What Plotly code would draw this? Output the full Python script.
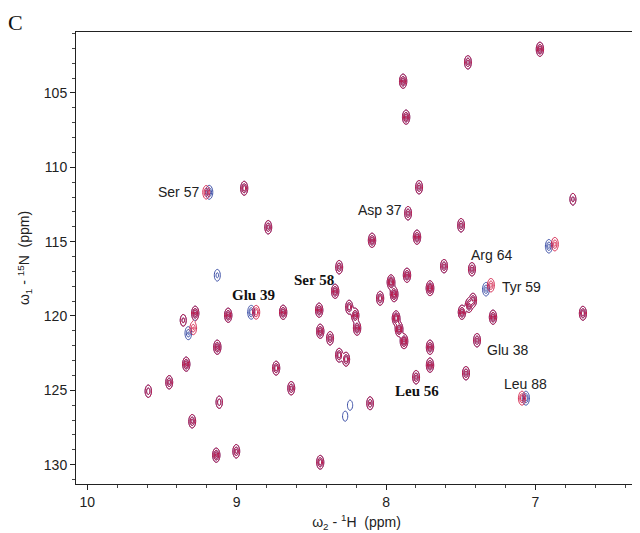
import numpy as np
import plotly.graph_objects as go

# ---- data: peak positions (1H ppm, 15N ppm) and relative intensities ----
common_H = [6.970, 7.452, 7.886, 7.866, 8.950, 8.789, 7.779, 7.853, 7.498, 8.094,
            7.793, 6.749, 8.314, 7.612, 7.425, 7.860, 8.341, 7.967, 7.946, 7.706,
            8.040, 7.492, 7.445, 7.418, 7.284, 6.682, 8.448, 8.247, 8.207, 8.194,
            7.933, 7.913, 7.880, 8.441, 8.375, 8.314, 8.268, 7.706, 7.706, 7.391,
            7.465, 7.799, 8.107, 8.441, 9.278, 9.358, 9.057, 8.689, 9.130, 9.338,
            8.736, 9.452, 9.592, 8.635, 9.117, 9.298, 9.137, 9.003]
common_N = [102.06, 102.94, 104.21, 106.63, 111.41, 114.03, 111.34, 113.09, 113.90, 114.91,
            114.70, 112.15, 116.72, 116.65, 116.86, 117.26, 118.34, 117.73, 118.54, 118.13,
            118.81, 119.75, 119.28, 118.94, 120.08, 119.82, 119.61, 119.41, 119.95, 120.82,
            120.15, 120.89, 121.70, 121.03, 121.50, 122.64, 122.91, 122.10, 123.31, 121.63,
            123.85, 124.12, 125.87, 129.84, 119.82, 120.29, 119.95, 119.75, 122.10, 123.24,
            123.51, 124.46, 125.06, 124.86, 125.80, 127.08, 129.36, 129.10]
common_I = [1.0, 0.8, 1.0, 1.0, 0.9, 0.8, 0.8, 0.8, 0.8, 1.0,
            1.0, 0.5, 0.8, 0.8, 0.8, 1.0, 1.0, 1.2, 1.2, 1.2,
            0.9, 1.0, 1.0, 0.9, 1.0, 0.9, 1.0, 0.9, 1.0, 1.0,
            1.2, 1.2, 1.2, 1.0, 0.8, 0.9, 0.9, 1.0, 1.0, 0.8,
            0.8, 0.8, 0.7, 0.9, 1.0, 0.5, 1.0, 1.0, 1.0, 1.0,
            0.9, 0.8, 0.6, 0.8, 0.6, 0.8, 1.0, 0.8]

# peaks that differ between the two spectra
red_extra_H = [9.204, 7.298, 7.090, 6.870, 8.870, 9.291]
red_extra_N = [111.68, 117.93, 125.53, 115.17, 119.75, 120.82]
red_extra_I = [0.8, 0.8, 0.9, 0.8, 0.9, 0.7]

blue_extra_H = [9.184, 7.331, 7.064, 6.910, 8.903, 9.324, 9.130, 8.241, 8.274]
blue_extra_N = [111.68, 118.20, 125.53, 115.31, 119.75, 121.16, 117.26, 126.00, 126.74]
blue_extra_I = [0.9, 0.8, 0.9, 0.8, 0.9, 0.7, 0.5, 0.35, 0.35]

labels = ["Ser 57", "Asp 37", "Arg 64", "Tyr 59", "Glu 38", "Leu 88", "Glu 39", "Ser 58", "Leu 56"]
label_H = [9.391, 8.043, 7.291, 7.094, 7.187, 7.067, 8.886, 8.485, 7.796]
label_N = [111.69, 112.89, 115.93, 118.07, 122.31, 124.60, 118.61, 117.60, 125.06]
label_bold = [False, False, False, False, False, False, True, True, True]

x_ticks = [10, 9, 8, 7]
y_ticks = [105, 110, 115, 120, 125, 130]

# ---- build spectra surfaces ----
gH = np.arange(6.55, 9.70, 0.005)
gN = np.arange(101.0, 131.2, 0.1)
HH, NN = np.meshgrid(gH, gN)
sx, sy = 0.0118, 0.23


def spectrum(hs, ns, amps):
    z = np.zeros_like(HH)
    for h, n, a in zip(hs, ns, amps):
        z += a * np.exp(-((HH - h) ** 2 / (2 * sx ** 2) + (NN - n) ** 2 / (2 * sy ** 2)))
    return np.round(z, 3)


z_red = spectrum(common_H + red_extra_H, common_N + red_extra_N, common_I + red_extra_I)
z_blue = spectrum(common_H + blue_extra_H, common_N + blue_extra_N, common_I + blue_extra_I)

fig = go.Figure()
for z, col, w in [(z_blue, "#3b4ea6", 1.0), (z_red, "#d01440", 0.9)]:
    fig.add_trace(go.Contour(
        x=gH, y=gN, z=z,
        contours=dict(coloring="lines", start=0.12, end=1.3, size=0.26),
        colorscale=[[0, col], [1, col]],
        line=dict(width=w),
        showscale=False, hoverinfo="skip",
    ))

for t, h, n, b in zip(labels, label_H, label_N, label_bold):
    if b:
        font = dict(family="Liberation Serif, Times New Roman, serif", size=15, color="#111")
        txt = "<b>" + t + "</b>"
    else:
        font = dict(family="Liberation Sans, Arial, sans-serif", size=14, color="#222")
        txt = t
    fig.add_annotation(x=h, y=n, text=txt, showarrow=False, font=font,
                       xanchor="center", yanchor="middle")

fig.add_annotation(xref="paper", yref="paper", x=-0.124, y=1.052, text="C", showarrow=False,
                   font=dict(family="Liberation Serif, Times New Roman, serif", size=22, color="#111"),
                   xanchor="left", yanchor="top")

axis_font = dict(family="Liberation Sans, Arial, sans-serif", size=14, color="#222")
fig.update_layout(
    width=632, height=525,
    margin=dict(l=68, r=3, t=24, b=49),
    paper_bgcolor="white", plot_bgcolor="white",
    showlegend=False,
    xaxis=dict(range=[10.076, 6.32], tickvals=x_ticks, ticktext=[str(v) for v in x_ticks],
               ticks="outside", ticklen=5, tickcolor="#222", showline=True, linecolor="#222",
               linewidth=1, mirror=True, showgrid=False, zeroline=False, tickfont=axis_font,
               automargin=False,
               minor=dict(dtick=0.2, tick0=0, ticks="outside", ticklen=3, tickcolor="#444"),
               title=dict(text="ω<sub>2</sub> - <sup>1</sup>H  (ppm)", font=axis_font, standoff=8)),
    yaxis=dict(range=[131.3, 100.9], tickvals=y_ticks, ticktext=[str(v) for v in y_ticks],
               ticks="outside", ticklen=5, tickcolor="#222", showline=True, linecolor="#222",
               linewidth=1, mirror=True, showgrid=False, zeroline=False, tickfont=axis_font,
               automargin=False,
               minor=dict(dtick=1, tick0=0, ticks="outside", ticklen=3, tickcolor="#444"),
               title=dict(text="ω<sub>1</sub> - <sup>15</sup>N  (ppm)", font=axis_font, standoff=10)),
)

fig.write_html("out.html")
